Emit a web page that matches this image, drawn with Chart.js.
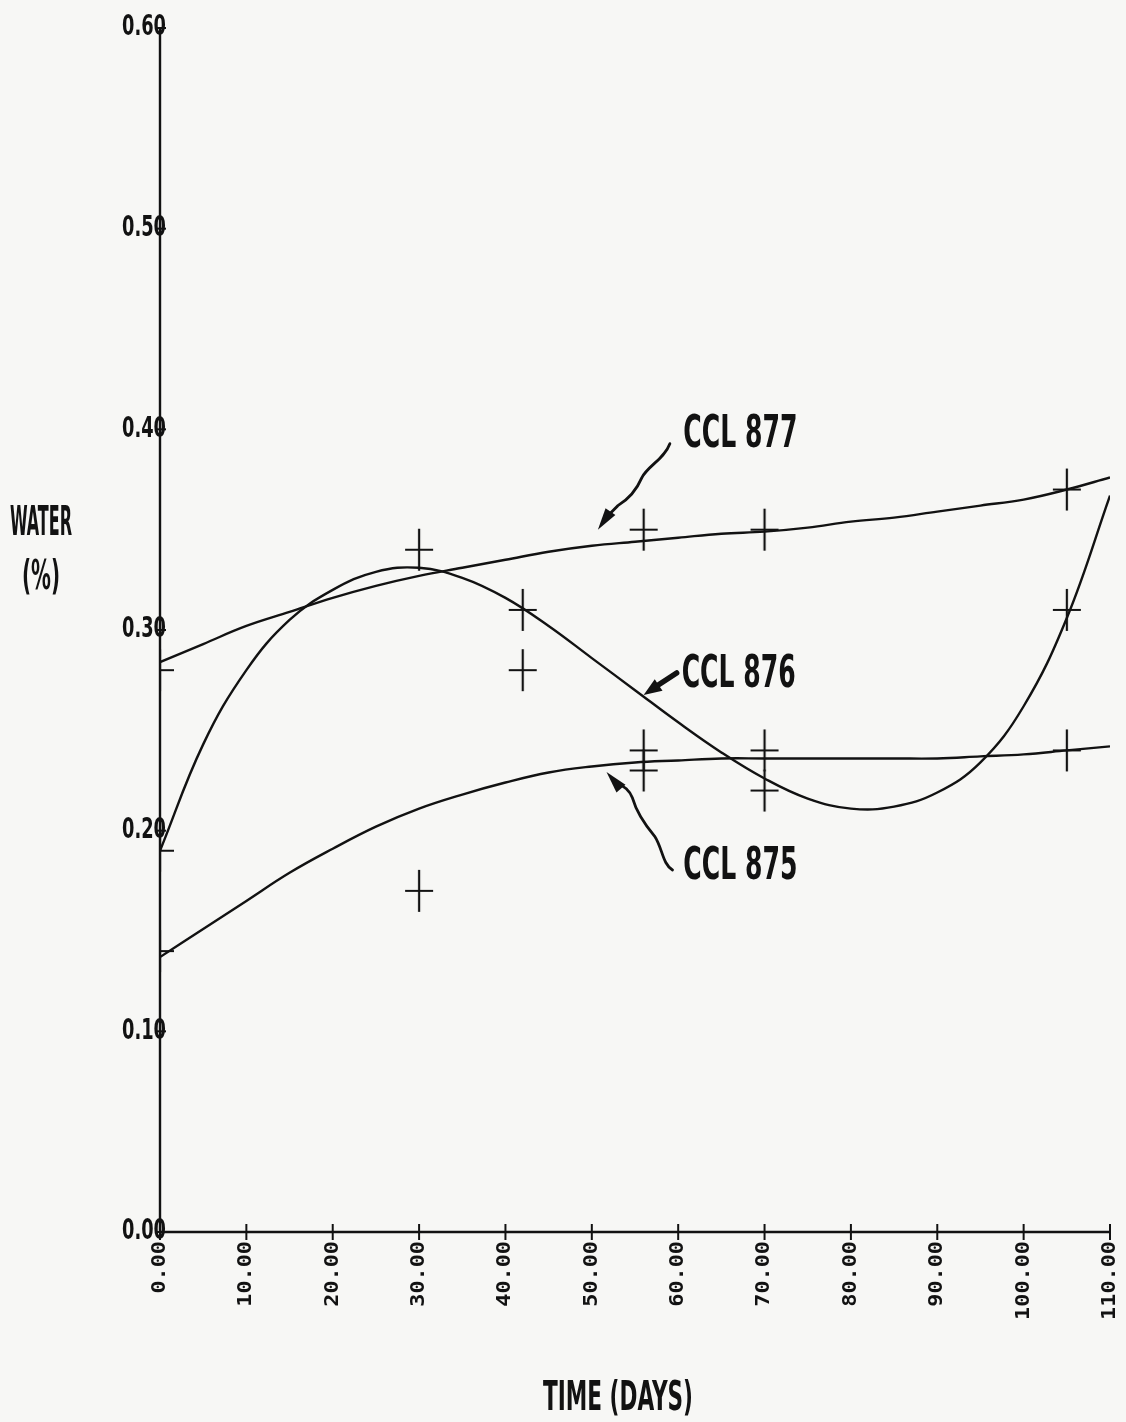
<!DOCTYPE html>
<html>
<head>
<meta charset="utf-8">
<script src="https://cdn.jsdelivr.net/npm/chart.js@4.4.1/dist/chart.umd.min.js"></script>
<style>
  html, body { margin: 0; padding: 0; background: #f7f7f5; }
  #wrap { width: 1126px; height: 1422px; position: relative; }
</style>
</head>
<body>
<div id="wrap"><canvas id="c"></canvas></div>
<script>
// Axis ticks
const xTicks = [0, 10, 20, 30, 40, 50, 60, 70, 80, 90, 100, 110];
const xTickLabels = ['0.00', '10.00', '20.00', '30.00', '40.00', '50.00', '60.00', '70.00', '80.00', '90.00', '100.00', '110.00'];
const yTicks = [0, 0.1, 0.2, 0.3, 0.4, 0.5, 0.6];
const yTickLabels = ['0.00', '0.10', '0.20', '0.30', '0.40', '0.50', '0.60'];

// Fitted curves (days, water %)
const fitDays = [0, 5, 10, 15, 20, 25, 30, 35, 40, 45, 50, 55, 60, 65, 70, 75, 80, 85, 90, 95, 100, 105, 110];
const fit877 = [0.284, 0.293, 0.302, 0.309, 0.316, 0.322, 0.327, 0.331, 0.335, 0.339, 0.342, 0.344, 0.346, 0.348, 0.349, 0.351, 0.354, 0.356, 0.359, 0.362, 0.365, 0.370, 0.376];
const fit876 = [0.190, 0.243, 0.280, 0.305, 0.320, 0.329, 0.331, 0.326, 0.316, 0.302, 0.286, 0.270, 0.254, 0.239, 0.226, 0.216, 0.211, 0.212, 0.219, 0.234, 0.262, 0.306, 0.367];
const fit875 = [0.137, 0.151, 0.165, 0.179, 0.191, 0.202, 0.211, 0.218, 0.224, 0.229, 0.232, 0.234, 0.235, 0.236, 0.236, 0.236, 0.236, 0.236, 0.236, 0.237, 0.238, 0.240, 0.242];

// Measured samples
const days877 = [0, 30, 56, 70, 105];
const obs877  = [0.28, 0.34, 0.35, 0.35, 0.37];
const days876 = [0, 42, 56, 70, 105];
const obs876  = [0.19, 0.31, 0.24, 0.22, 0.31];
const days875 = [0, 30, 42, 56, 70, 105];
const obs875  = [0.14, 0.17, 0.28, 0.23, 0.24, 0.24];

// Curve labels: text and anchor (days, water %)
const labelNames = ['CCL 877', 'CCL 876', 'CCL 875'];
const labelDays  = [60.6, 60.4, 60.6];
const labelWater = [0.391, 0.2716, 0.1759];
// Arrow tips (days, water %)
const arrowDays  = [50.7, 56.0, 51.7];
const arrowWater = [0.350, 0.2676, 0.2292];

const INK = '#121212';
const PAPER = '#f7f7f5';

function pairs(xs, ys) { return xs.map((x, i) => ({ x: x, y: ys[i] })); }

// Tall plotter-style cross marker
function crossMarker() {
  const c = document.createElement('canvas');
  c.width = 30; c.height = 44;
  const g = c.getContext('2d');
  g.strokeStyle = INK; g.lineWidth = 2.2;
  g.beginPath();
  g.moveTo(15, 1); g.lineTo(15, 43);
  g.moveTo(1, 22); g.lineTo(29, 22);
  g.stroke();
  return c;
}
const marker = crossMarker();

function curve(data) {
  return { type: 'line', data: data, borderColor: INK, borderWidth: 2.4, pointRadius: 0,
           tension: 0.4, fill: false, order: 2 };
}
function samples(data) {
  return { type: 'scatter', data: data, pointStyle: marker, pointRadius: 15,
           borderColor: INK, backgroundColor: INK, order: 1 };
}

// Text squeezed/stretched horizontally, like a pen plotter's lettering
function plotText(ctx, text, x, y, o) {
  ctx.save();
  ctx.translate(x, y);
  if (o.rotate) ctx.rotate(o.rotate);
  ctx.font = (o.weight || 'normal') + ' ' + o.size + 'px ' + (o.family || '"DejaVu Sans Condensed", "DejaVu Sans", sans-serif');
  let sx = o.sx || 1;
  const w = ctx.measureText(text).width;
  if (o.width) sx = o.width / w;
  ctx.scale(sx, o.sy || 1);
  ctx.fillStyle = INK;
  ctx.textBaseline = o.baseline || 'alphabetic';
  let dx = 0;
  if (o.align === 'right') dx = -w;
  else if (o.align === 'center') dx = -w / 2;
  ctx.fillText(text, dx, 0);
  ctx.restore();
}

const plotterDecor = {
  id: 'plotterDecor',
  beforeDraw(chart) {
    const ctx = chart.ctx;
    ctx.save();
    ctx.fillStyle = PAPER;
    ctx.fillRect(0, 0, chart.width, chart.height);
    ctx.restore();
  },
  afterDraw(chart) {
    const ctx = chart.ctx;
    const xs = chart.scales.x, ys = chart.scales.y;
    const a = chart.chartArea;
    ctx.save();
    ctx.strokeStyle = INK;
    ctx.lineWidth = 2.4;
    // axes
    ctx.beginPath();
    ctx.moveTo(a.left, a.top); ctx.lineTo(a.left, a.bottom); ctx.lineTo(a.right, a.bottom);
    ctx.stroke();
    ctx.lineWidth = 2;
    // x ticks crossing the axis
    xTicks.forEach(v => {
      const px = xs.getPixelForValue(v);
      ctx.beginPath(); ctx.moveTo(px, a.bottom - 8); ctx.lineTo(px, a.bottom + 8); ctx.stroke();
    });
    // y ticks
    yTicks.forEach(v => {
      const py = ys.getPixelForValue(v);
      ctx.beginPath(); ctx.moveTo(a.left - 4, py); ctx.lineTo(a.left + 6, py); ctx.stroke();
    });
    // y tick labels
    yTicks.forEach((v, i) => {
      const py = ys.getPixelForValue(v);
      plotText(ctx, yTickLabels[i], a.left - 38, py, { size: 30, weight: 'bold', width: 44, baseline: 'middle', sy: 0.95 });
    });
    // x tick labels, rotated
    xTicks.forEach((v, i) => {
      const px = xs.getPixelForValue(v);
      plotText(ctx, xTickLabels[i], px, a.bottom + 9, { size: 19, weight: 'bold', family: '"DejaVu Sans Mono", monospace', sx: 1.15, rotate: -Math.PI / 2, align: 'right', baseline: 'middle' });
    });
    // axis titles
    plotText(ctx, 'WATER', 10, 535, { size: 41, weight: 'bold', width: 62 });
    plotText(ctx, '(%)', 22, 589, { size: 41, weight: 'bold', width: 38 });
    plotText(ctx, 'TIME (DAYS)', 543, 1410, { size: 41, weight: 'bold', width: 150 });

    // curve labels
    labelNames.forEach((t, i) => {
      plotText(ctx, t, xs.getPixelForValue(labelDays[i]), ys.getPixelForValue(labelWater[i]), { size: 44, weight: 'bold', width: 114 });
    });

    // arrows
    const tip = i => [xs.getPixelForValue(arrowDays[i]), ys.getPixelForValue(arrowWater[i])];
    function head(tx, ty, fx, fy, len, half) {
      const ang = Math.atan2(ty - fy, tx - fx);
      ctx.beginPath();
      ctx.moveTo(tx, ty);
      ctx.lineTo(tx - len * Math.cos(ang) + half * Math.sin(ang), ty - len * Math.sin(ang) - half * Math.cos(ang));
      ctx.lineTo(tx - len * Math.cos(ang) - half * Math.sin(ang), ty - len * Math.sin(ang) + half * Math.cos(ang));
      ctx.closePath();
      ctx.fill();
    }
    ctx.fillStyle = INK;
    ctx.lineCap = 'round';
    // CCL 877: wavy leader down to the upper curve
    {
      const [tx, ty] = tip(0);
      ctx.lineWidth = 2.8;
      ctx.beginPath();
      ctx.moveTo(tx + 72, ty - 86);
      ctx.bezierCurveTo(tx + 66, ty - 70, tx + 50, ty - 64, tx + 44, ty - 52);
      ctx.bezierCurveTo(tx + 38, ty - 38, tx + 30, ty - 30, tx + 20, ty - 24);
      ctx.lineTo(tx + 8, ty - 12);
      ctx.stroke();
      head(tx, ty, tx + 14, ty - 20, 22, 6);
    }
    // CCL 876: short heavy arrow
    {
      const [tx, ty] = tip(1);
      ctx.lineWidth = 5.5;
      ctx.beginPath();
      ctx.moveTo(tx + 33, ty - 22);
      ctx.lineTo(tx + 10, ty - 7);
      ctx.stroke();
      head(tx, ty, tx + 33, ty - 22, 18, 7);
    }
    // CCL 875: wavy leader up to the lower curve
    {
      const [tx, ty] = tip(2);
      ctx.lineWidth = 2.8;
      ctx.beginPath();
      ctx.moveTo(tx + 66, ty + 98);
      ctx.bezierCurveTo(tx + 56, ty + 92, tx + 56, ty + 76, tx + 48, ty + 64);
      ctx.bezierCurveTo(tx + 38, ty + 52, tx + 30, ty + 40, tx + 26, ty + 26);
      ctx.bezierCurveTo(tx + 22, ty + 16, tx + 16, ty + 14, tx + 9, ty + 10);
      ctx.stroke();
      head(tx, ty, tx + 14, ty + 16, 22, 6);
    }
    ctx.restore();
  }
};

new Chart(document.getElementById('c'), {
  data: {
    datasets: [
      curve(pairs(fitDays, fit877)),
      curve(pairs(fitDays, fit876)),
      curve(pairs(fitDays, fit875)),
      samples(pairs(days877, obs877)),
      samples(pairs(days876, obs876)),
      samples(pairs(days875, obs875))
    ]
  },
  options: {
    responsive: true,
    maintainAspectRatio: false,
    animation: false,
    layout: { padding: { left: 0, top: 28, right: 13, bottom: 0 } },
    plugins: { legend: { display: false }, tooltip: { enabled: false } },
    scales: {
      x: {
        type: 'linear', min: 0, max: 110,
        grid: { display: false }, border: { display: false },
        ticks: { display: false, stepSize: 10 },
        afterFit(s) { s.height = 190; }
      },
      y: {
        type: 'linear', min: 0, max: 0.6,
        grid: { display: false }, border: { display: false },
        ticks: { display: false, stepSize: 0.1 },
        afterFit(s) { s.width = 160; }
      }
    }
  },
  plugins: [plotterDecor]
});
</script>
</body>
</html>
